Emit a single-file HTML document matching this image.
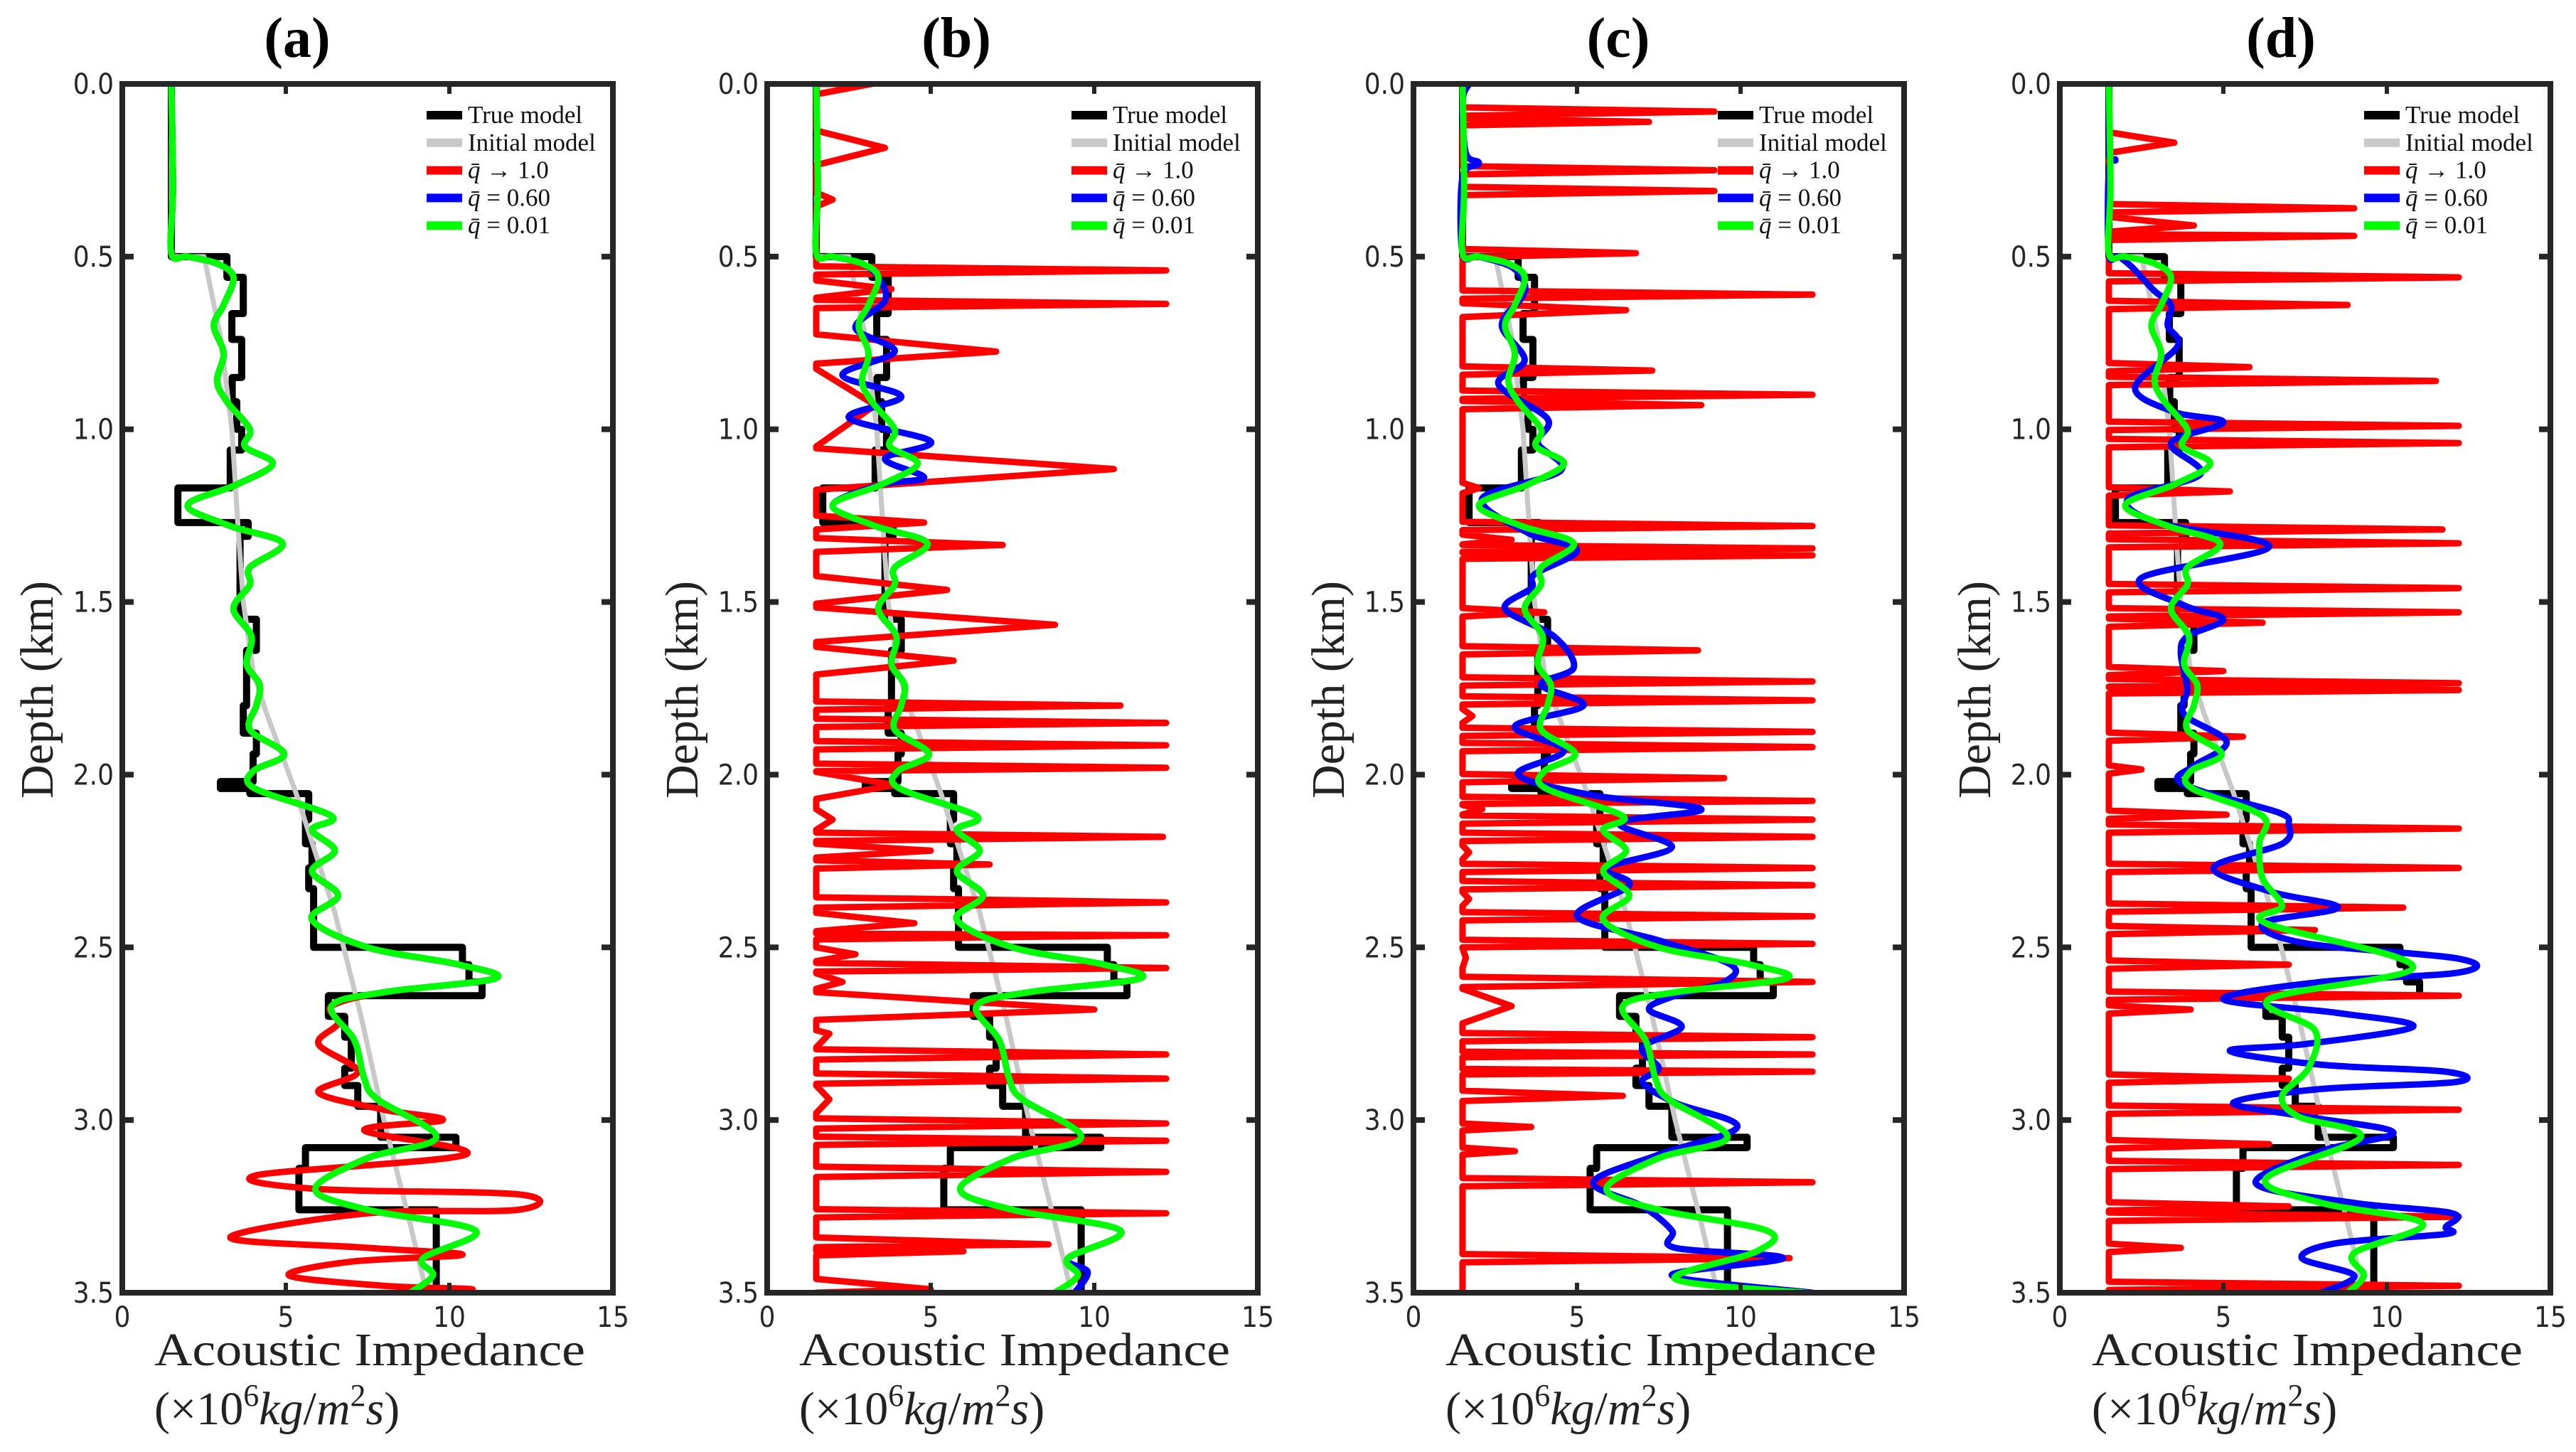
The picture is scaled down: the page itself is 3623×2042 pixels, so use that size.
<!DOCTYPE html>
<html><head><meta charset="utf-8">
<style>
html,body{margin:0;padding:0;background:#fff;}
svg{display:block;}
.tick{font-family:"DejaVu Sans Condensed","Liberation Sans Narrow","Liberation Sans",sans-serif;font-size:40px;fill:#262626;}
.ttl{font-family:"Liberation Serif",serif;font-weight:bold;font-size:80px;fill:#000;}
.lab{font-family:"Liberation Serif",serif;font-size:66px;fill:#222;}
.leg{font-family:"Liberation Serif",serif;font-size:35px;fill:#111;}
</style></head>
<body>
<svg id="fig" xmlns="http://www.w3.org/2000/svg" width="3623" height="2042" viewBox="0 0 3623 2042"></svg>
<script>
// ---------- data ----------
const panelIds = ['a','b','c','d'];
const panelLefts = [172, 1079, 1988, 2897];
const titleCenters = [418, 1345, 2276, 3208];
const xTicks = [0, 5, 10, 15];
const yTicks = [0.0, 0.5, 1.0, 1.5, 2.0, 2.5, 3.0, 3.5];
const legendLabels = ['True model', 'Initial model', 'q\u0304 \u2192 1.0', 'q\u0304 = 0.60', 'q\u0304 = 0.01'];

// true model (step function)
const trueBreaks = [0,0.5,0.56,0.665,0.74,0.85,0.92,1.0,1.06,1.17,1.27,1.31,1.38,1.55,1.64,1.8,1.88,1.94,2.02,2.04,2.055,2.13,2.2,2.27,2.33,2.5,2.55,2.6,2.64,2.7,2.76,2.85,2.9,2.96,3.05,3.08,3.14,3.26,3.5];
const trueValues = [1.5,3.2,3.7,3.35,3.65,3.36,3.5,3.65,3.3,1.7,3.85,3.6,3.6,4.1,3.8,3.7,4.1,4.0,3.0,3.9,5.7,5.6,5.8,5.7,5.85,10.4,10.6,11.0,6.3,6.8,7.0,6.8,7.2,7.9,10.2,5.6,5.4,9.6];

// initial model
const initDepths = [0,0.5,0.5,0.73,1.0,1.3,1.5,1.7,1.82,2.05,2.4,2.7,3.0,3.3,3.5];
const initValues = [1.5,1.5,2.5,3.0,3.35,3.55,3.7,4.0,4.4,5.3,6.5,7.3,8.0,8.8,9.3];

// q = 0.01 (green) base
const greenDepths = [0,0.3,0.49,0.5,0.52,0.56,0.64,0.7,0.78,0.86,0.92,1.0,1.05,1.1,1.16,1.22,1.28,1.33,1.4,1.45,1.52,1.6,1.68,1.74,1.8,1.87,1.94,1.99,2.04,2.12,2.16,2.22,2.28,2.35,2.42,2.5,2.55,2.59,2.63,2.67,2.77,2.88,2.94,3.05,3.11,3.2,3.26,3.32,3.4,3.45,3.5];
const greenValues = [1.5,1.55,1.5,2.0,2.9,3.4,3.1,2.8,3.1,2.9,3.2,3.9,3.75,4.6,3.5,2.0,3.3,4.9,3.9,3.9,3.4,3.95,3.8,4.2,4.1,3.9,4.95,4.0,4.05,6.4,5.8,6.5,5.8,6.6,5.8,7.5,10.3,11.4,8.0,6.4,7.1,7.4,7.8,9.6,7.5,5.9,7.5,10.8,9.2,9.5,8.8];
const greenCTailDepths = [3.38,3.46,3.5];
const greenCTailValues = [10.5,8.0,12.0];
const greenDTailDepths = [2.12,2.2,2.3,2.38,2.43,2.556,2.65,2.74,2.85,2.93,2.99,3.05,3.17,3.24,3.3,3.385,3.45,3.5];
const greenDTailValues = [6.2,6.1,6.2,6.8,6.3,10.8,6.4,7.8,7.6,6.8,7.3,9.2,6.3,8.0,11.1,9.0,9.3,8.8];

// q -> 1.0 (red) panel a tail after 2.7 km
const redATailDepths = [2.72,2.78,2.86,2.92,2.97,3.0,3.03,3.1,3.16,3.2,3.215,3.26,3.27,3.34,3.37,3.39,3.41,3.45,3.48,3.49,3.5];
const redATailValues = [6.6,6.0,7.2,6.0,8.0,9.8,7.4,10.5,4.1,6.0,12.1,12.1,7.5,3.3,7.5,10.4,7.0,5.1,8.0,10.7,9.0];

// red spikes (depth km, peak value, half-width km), baseline 1.5
const redBSpikeDepths = [0.0,0.185,0.335,0.54,0.594,0.637,0.775,0.93,1.115,1.27,1.335,1.465,1.566,1.67,1.80,1.85,1.915,1.98,2.03,2.13,2.18,2.22,2.26,2.37,2.43,2.465,2.52,2.56,2.6,2.68,2.75,2.81,2.88,2.94,3.01,3.06,3.15,3.27,3.36,3.38,3.49];
const redBSpikePeaks  = [3.2,3.6,2.0,12.2,3.8,12.2,7.0,3.3,10.6,4.8,7.2,5.5,8.8,5.7,10.8,12.2,12.2,12.2,3.9,2.0,12.1,5.0,6.8,12.2,4.5,12.2,2.7,12.2,2.3,10.0,1.9,12.2,12.2,1.9,12.2,12.2,12.2,12.2,8.6,6.0,5.0];
const redBSpikeWidths = [0.03,0.05,0.02,0.012,0.025,0.012,0.05,0.12,0.06,0.02,0.02,0.04,0.05,0.04,0.012,0.012,0.012,0.012,0.04,0.03,0.012,0.02,0.012,0.015,0.03,0.012,0.02,0.015,0.03,0.06,0.04,0.015,0.015,0.04,0.015,0.012,0.015,0.012,0.02,0.012,0.03];

const redCSpikeDepths = [0.08,0.11,0.25,0.31,0.49,0.61,0.655,0.83,0.90,0.93,1.17,1.28,1.32,1.345,1.365,1.53,1.64,1.73,1.785,1.83,1.876,1.92,2.01,2.076,2.1,2.13,2.18,2.225,2.27,2.32,2.36,2.41,2.49,2.53,2.6,2.67,2.76,2.81,2.86,2.93,3.02,3.09,3.18,3.4];
const redCSpikePeaks  = [9.2,7.2,9.2,9.2,6.8,12.2,6.5,7.3,12.2,8.8,2.0,12.2,3.0,12.2,12.2,4.0,8.7,12.2,12.2,1.8,12.2,12.2,9.5,12.2,2.1,12.2,12.2,1.7,12.2,12.2,1.7,12.2,12.2,1.6,12.2,3.0,12.2,12.2,12.2,6.4,3.6,3.1,12.2,11.5];
const redCSpikeWidths = [0.012,0.01,0.012,0.012,0.012,0.012,0.02,0.012,0.012,0.012,0.015,0.012,0.015,0.012,0.01,0.012,0.012,0.012,0.012,0.02,0.012,0.012,0.012,0.012,0.015,0.012,0.012,0.02,0.012,0.012,0.02,0.012,0.012,0.03,0.015,0.05,0.012,0.008,0.008,0.015,0.01,0.01,0.012,0.012];

const redDSpikeDepths = [0.17,0.36,0.41,0.44,0.56,0.64,0.82,0.86,0.99,1.04,1.18,1.29,1.33,1.46,1.53,1.56,1.70,1.735,1.755,1.89,1.985,2.116,2.156,2.27,2.385,2.45,2.55,2.64,2.68,2.88,2.97,3.07,3.13,3.25,3.28,3.37,3.48];
const redDSpikePeaks  = [3.5,9.0,4.1,9.0,12.2,8.8,5.8,11.5,12.2,12.2,5.2,11.7,12.2,12.2,12.2,6.2,5.0,12.2,12.2,5.6,2.5,5.1,12.2,12.2,10.5,7.8,7.0,12.2,4.0,7.0,12.2,6.4,12.2,7.0,12.2,3.7,12.2];
const redDSpikeWidths = [0.03,0.012,0.025,0.012,0.012,0.012,0.012,0.012,0.012,0.012,0.012,0.012,0.012,0.012,0.012,0.012,0.012,0.012,0.01,0.012,0.012,0.012,0.012,0.012,0.012,0.012,0.012,0.012,0.012,0.012,0.012,0.012,0.012,0.012,0.012,0.012,0.012];

// q = 0.60 (blue)
const blueBHeadDepths = [0,0.3,0.49,0.5,0.52,0.56,0.628,0.707,0.775,0.843,0.905,0.967,1.035,1.085,1.14];
const blueBHeadValues = [1.5,1.55,1.5,2.0,2.9,3.4,3.6,2.7,3.9,2.3,4.1,2.5,5.0,3.6,4.8];
const blueBTailDepths = [3.44,3.5];
const blueBTailValues = [9.8,9.4];
const blueCDepths = [0,0.05,0.2,0.23,0.27,0.49,0.5,0.53,0.58,0.62,0.7,0.8,0.87,0.97,1.04,1.12,1.2,1.3,1.35,1.42,1.46,1.52,1.6,1.69,1.74,1.80,1.86,1.93,2.0,2.06,2.1,2.14,2.21,2.27,2.32,2.41,2.48,2.55,2.6,2.64,2.68,2.73,2.79,2.85,2.89,2.95,3.02,3.1,3.18,3.25,3.32,3.37,3.4,3.45,3.5];
const blueCValues = [1.7,1.5,1.6,2.0,1.5,1.5,2.0,3.0,3.4,3.3,2.7,3.4,2.6,4.1,3.8,4.5,2.1,3.5,5.0,3.7,3.6,2.8,4.3,4.9,3.9,5.2,3.1,4.6,3.2,5.5,8.8,6.3,7.9,5.9,6.6,5.0,7.5,9.7,9.5,8.0,7.2,8.2,7.0,7.5,7.0,8.0,9.9,7.5,5.5,7.0,7.9,8.0,11.3,7.9,12.2];
const blueDDepths = [0,0.2,0.22,0.25,0.49,0.5,0.53,0.6,0.64,0.7,0.76,0.88,0.95,0.98,1.04,1.13,1.2,1.27,1.34,1.43,1.51,1.55,1.6,1.65,1.75,1.825,1.905,1.974,2.014,2.053,2.11,2.145,2.2,2.27,2.34,2.385,2.43,2.488,2.533,2.573,2.6,2.65,2.69,2.73,2.78,2.8,2.84,2.86,2.89,2.91,2.95,2.99,3.036,3.09,3.184,3.24,3.27,3.31,3.33,3.356,3.4,3.45,3.5];
const blueDValues = [1.5,1.5,1.7,1.5,1.5,1.8,2.2,2.9,3.4,3.3,3.6,2.3,3.5,5.0,3.4,4.3,2.1,3.0,6.4,2.5,3.8,5.0,3.9,3.7,3.9,3.8,5.1,4.1,3.6,4.5,6.7,7.0,6.8,4.7,6.5,8.5,6.2,7.5,12.2,12.2,8.0,5.0,8.5,10.8,7.5,5.2,8.0,11.8,12.1,8.0,5.3,7.5,10.2,8.0,6.0,9.0,12.0,11.8,11.8,8.5,7.4,9.0,8.0];

// ---------- helpers ----------
const NS = 'http://www.w3.org/2000/svg';
const svg = document.getElementById('fig');
const TOP = 118, BOT = 1818, W = 690;
const pxPerKm = (BOT - TOP) / 3.5, pxPerUnit = W / 15;
function mk(tag, attrs, parent){ const e=document.createElementNS(NS,tag); for(const k in attrs) e.setAttribute(k,attrs[k]); (parent||svg).appendChild(e); return e; }
function zip(ds, vs){ return ds.map((d,i)=>[d, vs[i]]); }
function spikes(ds, ps, ws){
  const pts=[[0,1.5]];
  ds.forEach((d,i)=>{ pts.push([Math.max(0,d-ws[i]),1.5]); pts.push([d,ps[i]]); pts.push([Math.min(3.5,d+ws[i]),1.5]); });
  pts.push([3.5,1.5]);
  return pts.sort((a,b)=>a[0]-b[0]);
}
function linePath(pts, X, Y){ return pts.map((p,i)=>(i?'L':'M')+X(p[1]).toFixed(1)+' '+Y(p[0]).toFixed(1)).join(' '); }
function smoothPath(pts, X, Y){
  const P=pts.map(p=>[X(p[1]),Y(p[0])]);
  let s='M'+P[0][0].toFixed(1)+' '+P[0][1].toFixed(1);
  for(let i=0;i<P.length-1;i++){
    const p0=P[Math.max(0,i-1)],p1=P[i],p2=P[i+1],p3=P[Math.min(P.length-1,i+2)];
    const c1=[p1[0]+(p2[0]-p0[0])/6,p1[1]+(p2[1]-p0[1])/6], c2=[p2[0]-(p3[0]-p1[0])/6,p2[1]-(p3[1]-p1[1])/6];
    s+=' C'+c1[0].toFixed(1)+' '+c1[1].toFixed(1)+' '+c2[0].toFixed(1)+' '+c2[1].toFixed(1)+' '+p2[0].toFixed(1)+' '+p2[1].toFixed(1);
  }
  return s;
}
function stepPath(X, Y){
  let s='M'+X(trueValues[0])+' '+Y(trueBreaks[0]);
  for(let i=0;i<trueValues.length;i++){ s+=' L'+X(trueValues[i]).toFixed(1)+' '+Y(trueBreaks[i]).toFixed(1)+' L'+X(trueValues[i]).toFixed(1)+' '+Y(trueBreaks[i+1]).toFixed(1); }
  return s;
}

const greenBase = zip(greenDepths, greenValues);
const redSeries = [
  greenBase.filter(p=>p[0]<2.7).concat(zip(redATailDepths, redATailValues)),
  spikes(redBSpikeDepths, redBSpikePeaks, redBSpikeWidths),
  spikes(redCSpikeDepths, redCSpikePeaks, redCSpikeWidths),
  spikes(redDSpikeDepths, redDSpikePeaks, redDSpikeWidths)
];
const blueSeries = [
  greenBase,
  zip(blueBHeadDepths, blueBHeadValues).concat(greenBase.filter(p=>p[0]>=1.16 && p[0]<3.44)).concat(zip(blueBTailDepths, blueBTailValues)),
  zip(blueCDepths, blueCValues),
  zip(blueDDepths, blueDValues)
];
const greenSeries = [
  greenBase, greenBase,
  greenBase.filter(p=>p[0]<3.33).concat(zip(greenCTailDepths, greenCTailValues)),
  greenBase.filter(p=>p[0]<2.08).concat(zip(greenDTailDepths, greenDTailValues))
];
const redSmooth = [true,false,false,false];

// ---------- draw ----------
panelIds.forEach((pid, k)=>{
  const L = panelLefts[k];
  const X = v => L + v*pxPerUnit;
  const Y = d => TOP + d*pxPerKm;
  const g = mk('g', {});
  
  

  const cp = mk('clipPath', {id:'clip'+pid}, g);
  mk('rect', {x:L, y:TOP, width:W, height:BOT-TOP}, cp);
  const plot = mk('g', {'clip-path':'url(#clip'+pid+')'}, g);
  
  

  const common = {fill:'none','stroke-linejoin':'round','stroke-linecap':'round'};
  const tl = mk('path', Object.assign({d:stepPath(X,Y), stroke:'#000','stroke-width':10}, common), plot);
  
  
  const il = mk('path', Object.assign({d:linePath(zip(initDepths,initValues),X,Y), stroke:'#c8c8c8','stroke-width':7}, common), plot);
  
  
  const rl = mk('path', Object.assign({d:(redSmooth[k]?smoothPath:linePath)(redSeries[k],X,Y), stroke:'#ff0000','stroke-width':9}, common), plot);
  
  
  const bl = mk('path', Object.assign({d:smoothPath(blueSeries[k],X,Y), stroke:'#0000ff','stroke-width':9}, common), plot);
  
  
  const gl = mk('path', Object.assign({d:smoothPath(greenSeries[k],X,Y), stroke:'#00ff00','stroke-width':9}, common), plot);
  
  

  const fr = mk('rect', {x:L, y:TOP, width:W, height:BOT-TOP, fill:'none', stroke:'#262626','stroke-width':8}, g);
  
  

  xTicks.forEach(v=>{
    if(v>0 && v<15){
      mk('line',{x1:X(v),x2:X(v),y1:TOP,y2:TOP+14,stroke:'#262626','stroke-width':6},g);
      mk('line',{x1:X(v),x2:X(v),y1:BOT,y2:BOT-14,stroke:'#262626','stroke-width':6},g);
    }
    const t = mk('text',{x:X(v), y:1866, 'text-anchor':'middle', class:'tick'},g);
    t.textContent = String(v);
    
    
  });
  yTicks.forEach(d=>{
    if(d>0 && d<3.5){
      mk('line',{x1:L,x2:L+16,y1:Y(d),y2:Y(d),stroke:'#262626','stroke-width':8},g);
      mk('line',{x1:L+W,x2:L+W-16,y1:Y(d),y2:Y(d),stroke:'#262626','stroke-width':8},g);
    }
    const t = mk('text',{x:L-12, y:Y(d)+14, 'text-anchor':'end', class:'tick'},g);
    t.textContent = d.toFixed(1);
    
    
  });

  const tt = mk('text',{x:titleCenters[k], y:80, 'text-anchor':'middle', class:'ttl'},g);
  tt.textContent = '('+pid+')';
  
  

  const xl = mk('text',{x:L+45, y:1920, class:'lab', textLength:606, lengthAdjust:'spacingAndGlyphs'},g);
  xl.textContent = 'Acoustic Impedance';
  
  
  const xu = mk('text',{x:L+45, y:2003, class:'lab'},g);
  
  
  xu.innerHTML = '(×10<tspan dy="-26" font-size="44">6</tspan><tspan dy="26" font-style="italic">kg</tspan>/<tspan font-style="italic">m</tspan><tspan dy="-26" font-size="44">2</tspan><tspan dy="26" font-style="italic">s</tspan>)';
  const yl = mk('text',{x:0, y:0, class:'lab', 'text-anchor':'middle', transform:'translate('+(L-98)+',970) rotate(-90)'},g);
  yl.textContent = 'Depth (km)';
  
  

  const legColors = ['#000','#c8c8c8','#ff0000','#0000ff','#00ff00'];
  const lg = mk('g',{},g);
  
  
  legendLabels.forEach((lab,i)=>{
    const yy = 162 + i*38.8;
    const e = mk('g',{},lg);
    
    
    mk('line',{x1:L+428,x2:L+478,y1:yy,y2:yy,stroke:legColors[i],'stroke-width':12},e);
    const t = mk('text',{x:L+486, y:yy+11, class:'leg'},e);
    if(i<2){ t.textContent = lab; }
    else { t.innerHTML = '<tspan font-style="italic">q\u0304</tspan>' + lab.slice(2); }
  });
});
</script>
</body></html>
